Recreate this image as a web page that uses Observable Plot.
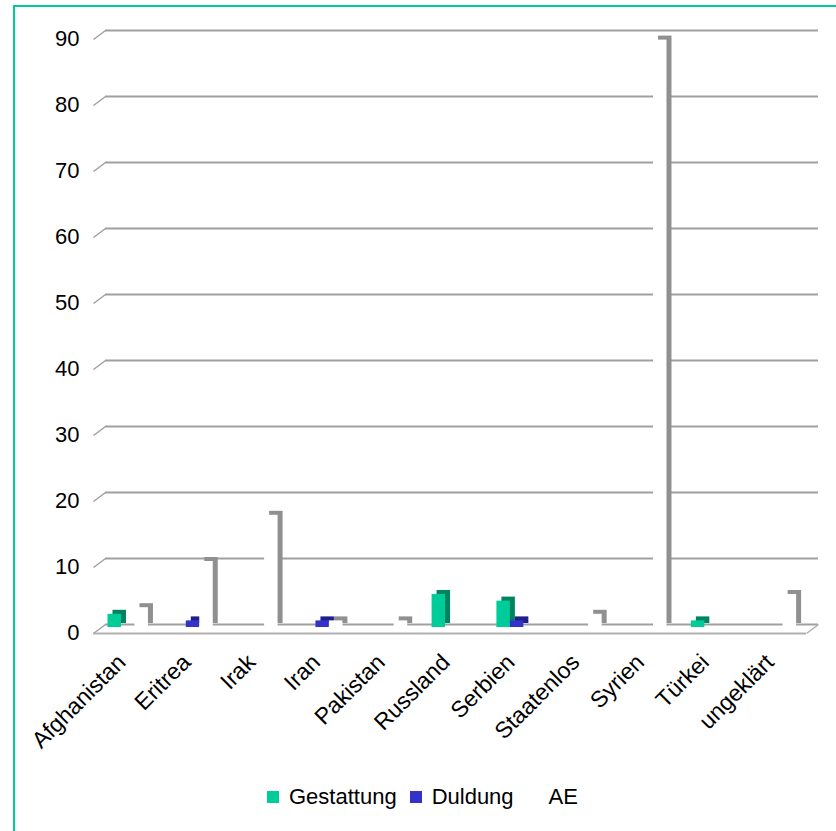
<!DOCTYPE html>
<html>
<head>
<meta charset="utf-8">
<script src="https://cdn.jsdelivr.net/npm/d3@7"></script>
<script src="https://cdn.jsdelivr.net/npm/@observablehq/plot@0.6"></script>
<style>
  html, body { margin: 0; padding: 0; background: #fff; overflow: hidden; }
  body { width: 836px; height: 831px; position: relative; font-family: "Liberation Sans", Arial, sans-serif; }
  #frame { position: absolute; left: 13px; top: 5px; width: 860px; height: 860px; border: 2px solid #00cc99; box-sizing: border-box; pointer-events: none; z-index: 5; }
  #chart { position: absolute; left: 0; top: 0; }
  #legend { margin-top: 5px; padding-left: 267px; height: 24px; line-height: 24px; display: flex; align-items: center; font-size: 22px; color: #000; }
  #legend .item { display: flex; align-items: center; margin-right: 13px; }
  #legend .sw { width: 12px; height: 12px; margin-right: 10px; }
</style>
</head>
<body>
<div id="chart"></div>
<div id="frame"></div>
<script>
const categories = ["Afghanistan", "Eritrea", "Irak", "Iran", "Pakistan", "Russland", "Serbien", "Staatenlos", "Syrien", "Türkei", "ungeklärt"];
const gestattung = [2, 0, 0, 0, 0, 5, 4, 0, 0, 1, 0];
const duldung    = [0, 1, 0, 1, 0, 0, 1, 0, 0, 0, 0];
const ae         = [3, 10, 17, 1, 1, 0, 0, 2, 89, 0, 5];
const yTicks = [0, 10, 20, 30, 40, 50, 60, 70, 80, 90];
const seriesNames = ["Gestattung", "Duldung", "AE"];
const seriesFront = ["#00cc99", "#3333cc", "#ffffff"];
const seriesSide  = ["#00835f", "#1f1f8c", "#909090"];

const W = 836, H = 780;
const mL = 99, mR = 24, mT = 33, mB = 153;
const n = categories.length;
const pxX = (W - mL - mR) / n;           // pixels per category unit
const pxY = (H - mT - mB) / 90;          // pixels per value unit
// depth geometry (front plane = -6,+6 ; back plane = +6,-3)
const depthX = 12 / pxX, depthY = 9 / pxY;

const barW = 0.208, barStart = 0.131;
const seriesValues = [gestattung, duldung, ae];
const bars = [];
seriesValues.forEach((vals, s) => {
  vals.forEach((v, i) => {
    if (v > 0) bars.push({cat: categories[i], i, s, value: v,
      x1: i + barStart + s * barW, x2: i + barStart + (s + 1) * barW});
  });
});

const font = "'Liberation Sans', Arial, sans-serif";

const plot = Plot.plot({
  width: W, height: H,
  marginLeft: mL, marginRight: mR, marginTop: mT, marginBottom: mB,
  style: {fontFamily: font, fontSize: "22px", color: "#000", background: "transparent"},
  x: {type: "linear", domain: [0, n], axis: null},
  y: {domain: [0, 90], axis: null},
  marks: [
    // back-wall gridlines
    Plot.ruleY(yTicks, {x1: 0, x2: n, dx: 6, dy: -3, stroke: "#a0a0a0", strokeWidth: 2}),
    // side-wall diagonals
    Plot.link(yTicks, {x1: 0, y1: d => d, x2: depthX, y2: d => d + depthY, dx: -6, dy: 6, stroke: "#a0a0a0", strokeWidth: 1.5}),
    // floor front edge and right edge
    Plot.ruleY([0], {x1: 0, x2: n, dx: -6, dy: 6, stroke: "#b0b0b0", strokeWidth: 2}),
    Plot.link([0], {x1: n, y1: 0, x2: n + depthX, y2: depthY, dx: -6, dy: 6, stroke: "#b0b0b0", strokeWidth: 1.5}),
    // 3D bar depth (side + top)
    Plot.rectY(bars, {x1: "x1", x2: "x2", y1: 0, y2: "value", dx: 5, dy: -4, fill: d => seriesSide[d.s]}),
    // bar fronts
    Plot.rectY(bars, {x1: "x1", x2: "x2", y1: 0, y2: "value", fill: d => seriesFront[d.s]}),
    // y axis labels
    Plot.axisY(yTicks, {tickSize: 0, tickPadding: 20, dy: 5, fontSize: 22, label: null}),
    // category labels
    Plot.text(categories, {x: (d, i) => i + 0.5, frameAnchor: "bottom", text: d => d, rotate: -45,
      textAnchor: "end", lineAnchor: "middle", dx: -10, dy: 31, fontSize: 23, fill: "#000"})
  ]
});
document.getElementById("chart").appendChild(plot);

const legend = document.createElement("div");
legend.id = "legend";
seriesNames.forEach((name, s) => {
  const item = document.createElement("div");
  item.className = "item";
  const sw = document.createElement("div");
  sw.className = "sw";
  sw.style.background = seriesFront[s];
  const label = document.createElement("span");
  label.textContent = name;
  item.appendChild(sw);
  item.appendChild(label);
  legend.appendChild(item);
});
document.getElementById("chart").appendChild(legend);
</script>
</body>
</html>
